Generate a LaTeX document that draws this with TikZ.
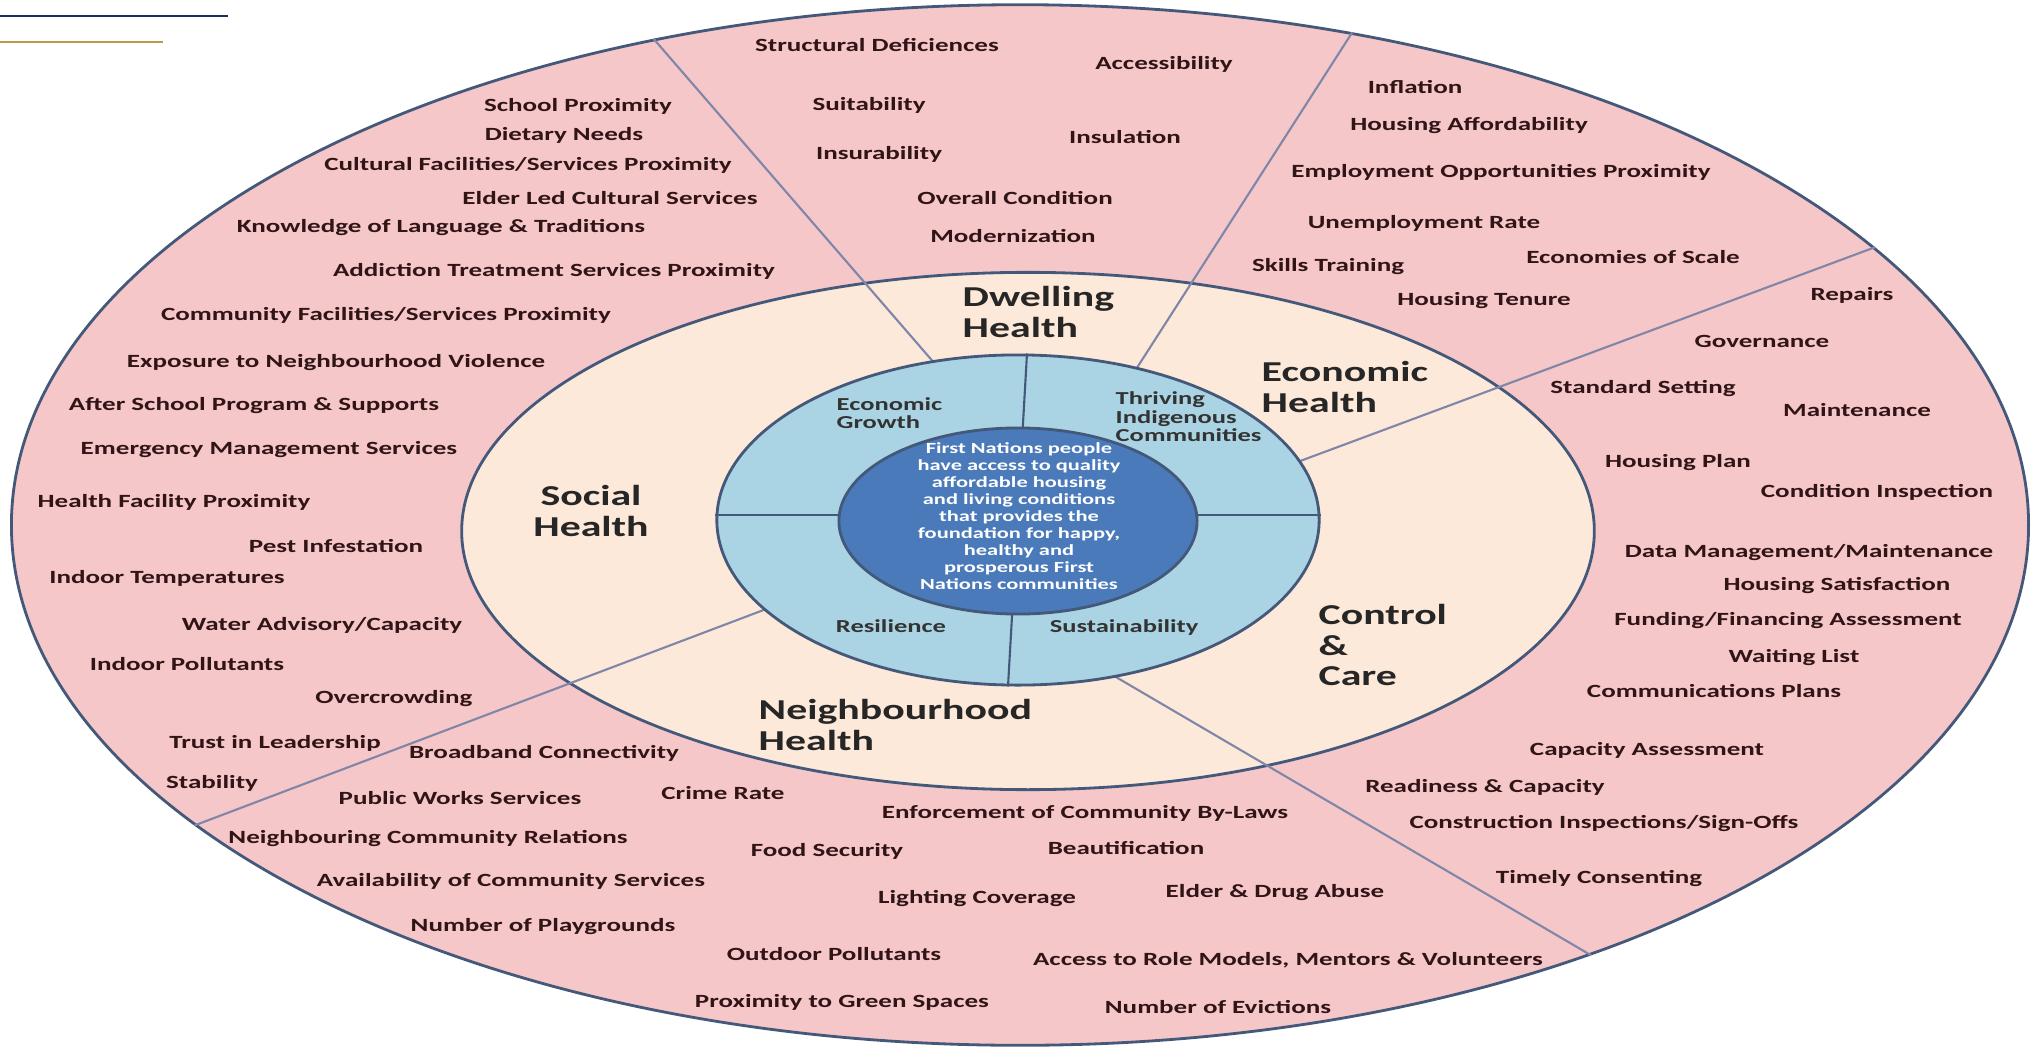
\documentclass[tikz,border=0pt]{standalone}
\usepackage{fontspec}
\setmainfont{Carlito}[FakeStretch=1.45]
\usetikzlibrary{shapes.geometric,calc}

\definecolor{ringpink}{RGB}{245,199,201}
\definecolor{ringbeige}{RGB}{252,233,218}
\definecolor{ringblue}{RGB}{170,212,228}
\definecolor{coreblue}{RGB}{74,122,186}
\definecolor{edgeblue}{RGB}{68,88,122}
\definecolor{spokegray}{RGB}{128,134,168}
\definecolor{itemtext}{RGB}{48,20,22}
\definecolor{topnavy}{RGB}{31,46,90}
\definecolor{topgold}{RGB}{190,154,72}

\begin{document}
\begin{tikzpicture}[x=0.01cm,y=-0.01cm,
  ring/.style={ellipse,draw=edgeblue,line width=0.8pt,inner sep=0pt},
  spoke/.style={draw=spokegray,line width=0.6pt},
  item/.style={font=\fontsize{5.3}{5.3}\selectfont\bfseries,text=itemtext,inner sep=0pt},
  cat/.style={font=\fontsize{8.2}{8.6}\selectfont\bfseries,text=black!85,align=left,inner sep=0pt,anchor=west},
  sub/.style={font=\fontsize{5.2}{5.3}\selectfont\bfseries,text=black!80,align=left,inner sep=0pt},
  core/.style={font=\fontsize{4.4}{4.85}\selectfont\bfseries,text=white,align=center,inner sep=0pt}]

\useasboundingbox (0,0) rectangle (2032,1054);

% rules top left
\draw[topnavy,line width=0.8pt] (0,16)--(228,16);
\draw[topgold,line width=0.7pt] (0,42)--(163,42);

% rings
\node[ring,fill=ringpink,minimum width=20.16cm,minimum height=10.40cm] (outer) at (1020,525) {};
\node[ring,fill=ringbeige,minimum width=11.32cm,minimum height=5.17cm] (mid) at (1028,531) {};

% spokes between the segments
\coordinate (in1) at (955,387);
\coordinate (in2) at (1124,388);
\coordinate (in3) at (1276,470);
\coordinate (in4) at (1092,663);
\coordinate (in5) at (790,600);
\draw[spoke] (outer.127)--(in1);
\draw[spoke] (outer.56)--(in2);
\draw[spoke] (outer.18)--(in3);
\draw[spoke] (outer.323)--(in4);
\draw[spoke] (outer.200)--(in5);

\node[ring,fill=ringblue,minimum width=6.02cm,minimum height=3.30cm] (lb) at (1018,520) {};
\draw[edgeblue,line width=0.6pt] ($(lb.north)+(9,0)$)--($(lb.south)+(-10,0)$);
\draw[edgeblue,line width=0.6pt] ($(lb.west)+(0,-5)$)--($(lb.east)+(0,-5)$);
\node[ring,fill=coreblue,minimum width=3.58cm,minimum height=1.86cm] (core) at (1018,521) {};

\node[core] (goal) at (1019,516) {First Nations people\\have access to quality\\affordable housing\\and living conditions\\that provides the\\foundation for happy,\\healthy and\\prosperous First\\Nations communities};

% inner ring
\node[sub,anchor=west] (growth) at (836,413) {Economic\\Growth};
\node[sub,anchor=west] (thriving) at (1115,417) {Thriving\\Indigenous\\Communities};
\node[sub] (resil) at (891,626) {Resilience};
\node[sub] (sustain) at (1124,628) {Sustainability};

% health areas
\node[cat] (dwelling) at (962,312) {Dwelling\\Health};
\node[cat] (economic) at (1261,387) {Economic\\Health};
\node[cat,anchor=center,align=center] (social) at (591,511) {Social\\Health};
\node[cat] (control) at (1318,645) {Control\\\&\\Care};
\node[cat] (neighbour) at (758,725) {Neighbourhood\\Health};

% social
\node[item] (sh1) at (578,106) {School Proximity};
\node[item] (sh2) at (564,135) {Dietary Needs};
\node[item] (sh3) at (528,165) {Cultural Facilities/Services Proximity};
\node[item] (sh4) at (610,198) {Elder Led Cultural Services};
\node[item] (sh5) at (441,228) {Knowledge of Language \& Traditions};
\node[item] (sh6) at (554,271) {Addiction Treatment Services Proximity};
\node[item] (sh7) at (386,315) {Community Facilities/Services Proximity};
\node[item] (sh8) at (336,363) {Exposure to Neighbourhood Violence};
\node[item] (sh9) at (254,406) {After School Program \& Supports};
\node[item] (sh10) at (269,450) {Emergency Management Services};
\node[item] (sh11) at (174,502) {Health Facility Proximity};
\node[item] (sh12) at (336,546) {Pest Infestation};
\node[item] (sh13) at (167,578) {Indoor Temperatures};
\node[item] (sh14) at (322,625) {Water Advisory/Capacity};
\node[item] (sh15) at (187,664) {Indoor Pollutants};
\node[item] (sh16) at (394,699) {Overcrowding};
\node[item] (sh17) at (275,743) {Trust in Leadership};
\node[item] (sh18) at (212,783) {Stability};

% dwelling
\node[item] (dh1) at (877,45) {Structural Deficiences};
\node[item] (dh2) at (1164,64) {Accessibility};
\node[item] (dh3) at (869,105) {Suitability};
\node[item] (dh4) at (1125,137) {Insulation};
\node[item] (dh5) at (879,154) {Insurability};
\node[item] (dh6) at (1015,198) {Overall Condition};
\node[item] (dh7) at (1013,236) {Modernization};

% economic
\node[item] (eh1) at (1415,87) {Inflation};
\node[item] (eh2) at (1469,126) {Housing Affordability};
\node[item] (eh3) at (1501,172) {Employment Opportunities Proximity};
\node[item] (eh4) at (1424,223) {Unemployment Rate};
\node[item] (eh5) at (1633,257) {Economies of Scale};
\node[item] (eh6) at (1328,267) {Skills Training};
\node[item] (eh7) at (1484,301) {Housing Tenure};

% control and care
\node[item] (cc1) at (1852,295) {Repairs};
\node[item] (cc2) at (1762,341) {Governance};
\node[item] (cc3) at (1643,389) {Standard Setting};
\node[item] (cc4) at (1857,410) {Maintenance};
\node[item] (cc5) at (1678,463) {Housing Plan};
\node[item] (cc6) at (1877,492) {Condition Inspection};
\node[item] (cc7) at (1809,553) {Data Management/Maintenance};
\node[item] (cc8) at (1837,586) {Housing Satisfaction};
\node[item] (cc9) at (1788,621) {Funding/Financing Assessment};
\node[item] (cc10) at (1794,658) {Waiting List};
\node[item] (cc11) at (1714,691) {Communications Plans};
\node[item] (cc12) at (1647,750) {Capacity Assessment};
\node[item] (cc13) at (1485,787) {Readiness \& Capacity};
\node[item] (cc14) at (1604,824) {Construction Inspections/Sign-Offs};
\node[item] (cc15) at (1599,879) {Timely Consenting};

% neighbourhood
\node[item] (nh1) at (544,753) {Broadband Connectivity};
\node[item] (nh2) at (460,798) {Public Works Services};
\node[item] (nh3) at (723,793) {Crime Rate};
\node[item] (nh4) at (428,839) {Neighbouring Community Relations};
\node[item] (nh5) at (1085,813) {Enforcement of Community By-Laws};
\node[item] (nh6) at (827,851) {Food Security};
\node[item] (nh7) at (1126,848) {Beautification};
\node[item] (nh8) at (511,881) {Availability of Community Services};
\node[item] (nh9) at (977,899) {Lighting Coverage};
\node[item] (nh10) at (1275,893) {Elder \& Drug Abuse};
\node[item] (nh11) at (543,927) {Number of Playgrounds};
\node[item] (nh12) at (834,954) {Outdoor Pollutants};
\node[item] (nh13) at (1288,960) {Access to Role Models, Mentors \& Volunteers};
\node[item] (nh14) at (842,1002) {Proximity to Green Spaces};
\node[item] (nh15) at (1218,1007) {Number of Evictions};

\end{tikzpicture}
\end{document}
